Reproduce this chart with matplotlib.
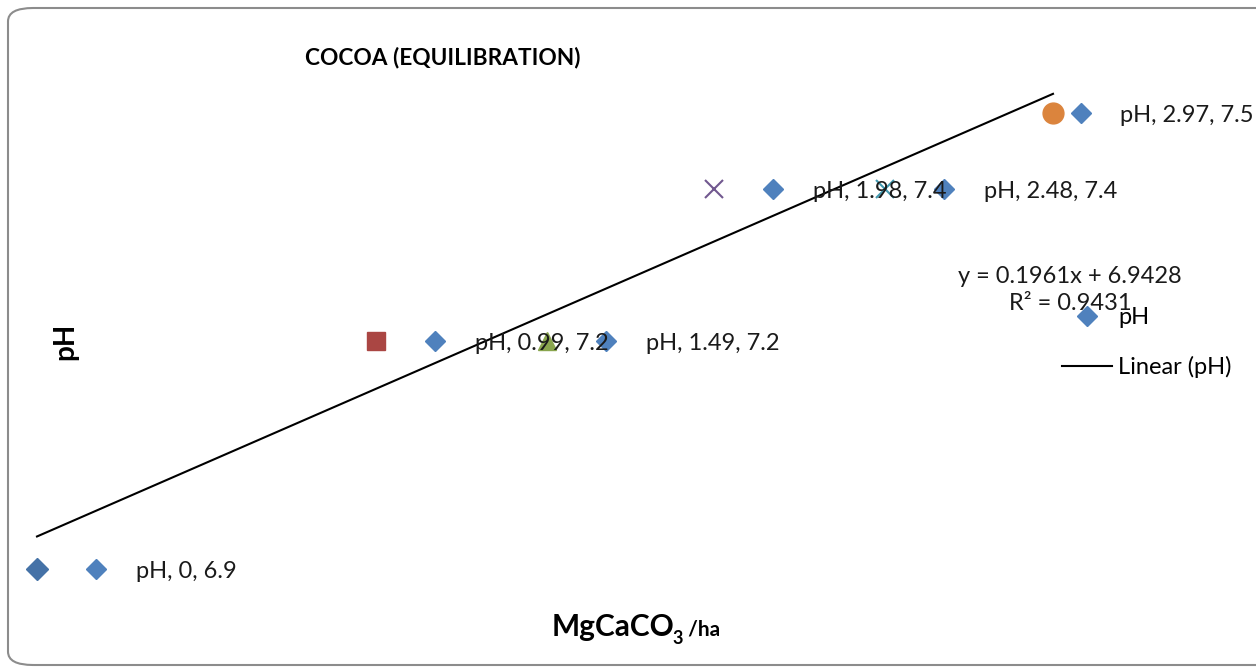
import matplotlib
matplotlib.use("Agg")
import matplotlib.pyplot as plt
from matplotlib.lines import Line2D
from matplotlib.patches import FancyBboxPatch
from matplotlib.transforms import ScaledTranslation

plt.rcParams['font.family'] = ['Lato', 'DejaVu Sans']

# ---- data ----
x_vals = [0, 0.99, 1.49, 1.98, 2.48, 2.97]
y_vals = [6.9, 7.2, 7.2, 7.4, 7.4, 7.5]
markers = ['D', 's', '^', 'x', 'x', 'o']
colors = ['#4572A7', '#AA4643', '#89A54E', '#71588F', '#4198AF', '#DB843D']
slope, intercept = 0.1961, 6.9428
r2 = 0.9431
title = "COCOA (EQUILIBRATION)"
series_name = "pH"

fig = plt.figure(figsize=(12.56, 6.7), dpi=100)
ax = fig.add_axes([0, 0, 1, 1])
ax.set_axis_off()
# layout: 0 -> 37px, 2.97 -> 1053px ; 6.9 -> 569px, 7.5 -> 113px (from top)
pxu = (1053 - 37) / 2.97
ax.set_xlim(-37 / pxu, (1256 - 37) / pxu)
pyu = (569 - 113) / 0.6
ax.set_ylim(6.9 - (670 - 569) / pyu, 6.9 + 569 / pyu)

# border
fig.patches.append(FancyBboxPatch((8 / 1256, 5 / 670), 1300 / 1256, 657 / 670,
                                  boxstyle="round,pad=0,rounding_size=0.02",
                                  transform=fig.transFigure, fill=False,
                                  edgecolor='#8c8c8c', linewidth=1.5, zorder=0))

# trendline
xs = [min(x_vals), max(x_vals)]
ax.plot(xs, [slope * v + intercept for v in xs], color='black', lw=1.5, zorder=2)

# points
sizes = {'D': 11.5, 's': 13.5, '^': 13, 'x': 13, 'o': 15}
for x, y, m, c in zip(x_vals, y_vals, markers, colors):
    ax.plot([x], [y], marker=m, color=c, ms=sizes[m], mew=1.5 if m == 'x' else 1,
            linestyle='none', zorder=3)

# data labels with legend keys
fs = 17
for i, (x, y) in enumerate(zip(x_vals, y_vals)):
    dk, dt = (59, 99) if i < len(x_vals) - 1 else (28, 67)
    ax.plot([x], [y], marker='D', ms=10, color='#4F81BD', linestyle='none',
            transform=ax.transData + ScaledTranslation(dk / 100, 0, fig.dpi_scale_trans),
            zorder=4)
    ax.annotate(f"{series_name}, {x:g}, {y:g}", xy=(x, y), xytext=(dt, -2),
                textcoords='offset pixels', va='center', ha='left', fontsize=fs,
                color='#1a1a1a', zorder=5)

# equation
ax.text(1070 / 1256, 1 - 290 / 670,
        f"y = {slope}x + {intercept}\nR² = {r2}", transform=ax.transAxes,
        ha='center', va='center', fontsize=fs, linespacing=1.4, color='#1a1a1a')

# legend
handles = [Line2D([], [], marker='D', color='#4F81BD', linestyle='none', ms=10),
           Line2D([], [], color='black', lw=1.5)]
ax.legend(handles, [series_name, "Linear (pH)"], loc='upper left',
          bbox_to_anchor=(1062 / 1256, 1 - 307 / 670), frameon=False, fontsize=fs,
          handlelength=2.12, handletextpad=0.25, labelspacing=1.2, borderaxespad=0,
          borderpad=0)

# title and axis labels
fig.text(443 / 1256, 1 - 57 / 670, title, ha='center', va='center',
         fontsize=16.3, fontweight='bold')
fig.text(65 / 1256, 1 - 341 / 670, "pH", ha='center', va='center', rotation=90,
         fontsize=20, fontweight='bold')
t1 = fig.text(552 / 1256, 1 - 627 / 670, "MgCaCO", ha='left', va='center',
              fontsize=21.5, fontweight='bold')
t2 = ax.annotate("3", xy=(1, 0.08), xycoords=t1, xytext=(-2, 0), textcoords='offset pixels',
                 ha='left', va='center', fontsize=13, fontweight='bold')
ax.annotate(" /ha", xy=(1, 0.45), xycoords=t2, xytext=(0, 0), textcoords='offset pixels',
            ha='left', va='bottom', fontsize=15, fontweight='bold')

fig.savefig("out.png", dpi=100)
